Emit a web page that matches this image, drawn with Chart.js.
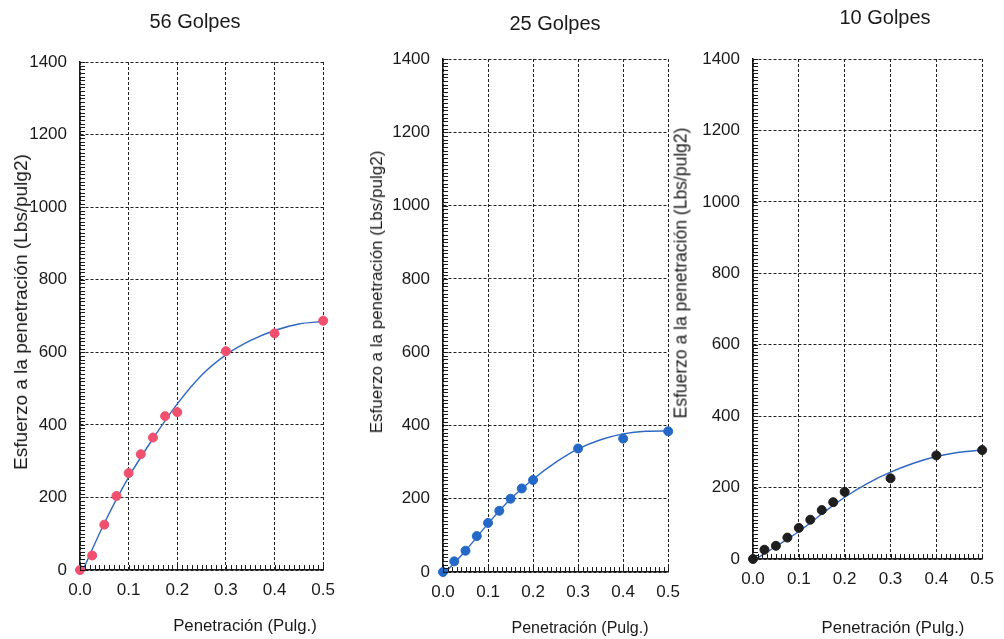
<!DOCTYPE html>
<html>
<head>
<meta charset="utf-8">
<script src="https://cdn.jsdelivr.net/npm/chart.js@4.4.0/dist/chart.umd.min.js"></script>
<style>
  body {
    margin: 0;
    background: #fff;
    width: 1004px;
    height: 639px;
    position: relative;
    overflow: hidden;
    font-family: "Liberation Sans", Arial, sans-serif;
    color: #1a1a1a;
  }
  canvas { position: absolute; top: 0; }
  .label {
    position: absolute;
    white-space: nowrap;
    transform: translate(-50%, -50%);
  }
  .vertical { transform: translate(-50%, -50%) rotate(-90deg); }
</style>
</head>
<body>
<canvas id="chart56" width="345" height="639" style="left:0"></canvas>
<canvas id="chart25" width="345" height="639" style="left:345px"></canvas>
<canvas id="chart10" width="344" height="639" style="left:660px"></canvas>

<div class="label" style="left:195px;top:21px;font-size:20px">56 Golpes</div>
<div class="label" style="left:555px;top:23px;font-size:20px">25 Golpes</div>
<div class="label" style="left:885px;top:17px;font-size:20px">10 Golpes</div>

<div class="label" style="left:245px;top:626px;font-size:16.8px">Penetración (Pulg.)</div>
<div class="label" style="left:580px;top:628px;font-size:16px">Penetración (Pulg.)</div>
<div class="label" style="left:893px;top:628px;font-size:16.7px">Penetración (Pulg.)</div>

<div class="label vertical" style="left:21px;top:312px;font-size:19px">Esfuerzo a la penetración (Lbs/pulg2)</div>
<div class="label vertical" style="left:377px;top:292px;font-size:17px">Esfuerzo a la penetración (Lbs/pulg2)</div>
<div class="label vertical" style="left:681px;top:273px;font-size:17.5px">Esfuerzo a la penetración (Lbs/pulg2)</div>

<script>
// Penetración (Pulg.) of each reading
const penetration = [0, 0.025, 0.05, 0.075, 0.1, 0.125, 0.15, 0.175, 0.2, 0.3, 0.4, 0.5];

// Esfuerzo a la penetración (Lbs/pulg2), one array per compaction
const stress56 = [0, 40, 125, 204, 267, 319, 365, 424, 435, 603, 652, 687];
const stress25 = [0, 29, 58, 98, 134, 167, 200, 228, 251, 337, 364, 384];
const stress10 = [0, 26, 37, 60, 87, 110, 137, 159, 188, 226, 290, 305];

// fitted curve
const fitPenetration = [0.006, 0.05, 0.1, 0.15, 0.2, 0.25, 0.3, 0.35, 0.4, 0.45, 0.5];
const fit56 = [0, 129, 256, 362, 458, 537, 593, 632, 660, 678, 685];
const fit25 = [0, 58, 132, 199, 253, 299, 336, 361, 377, 384, 385];
const fit10 = [0, 35, 77, 126, 173, 212, 243, 268, 287, 299, 305];

// tick labels
const xTicks = [0, 0.1, 0.2, 0.3, 0.4, 0.5];
const yTicks = [0, 200, 400, 600, 800, 1000, 1200, 1400];

const curveColor = "#2f68c4";
const inkColor = "#1a1a1a";
const tickFont = { family: "'Liberation Sans', Arial, sans-serif", size: 17 };

// small ruler marks along the left and bottom edges of the plot
const minorTicks = {
  id: "minorTicks",
  afterDraw(chart) {
    const { ctx, chartArea, scales } = chart;
    ctx.save();
    ctx.strokeStyle = inkColor;
    ctx.lineWidth = 1;
    ctx.beginPath();
    for (let i = 0; i <= 140; i++) {
      const y = Math.round(scales.y.getPixelForValue(i * 10)) + 0.5;
      ctx.moveTo(chartArea.left, y);
      ctx.lineTo(chartArea.left + 5, y);
    }
    for (let i = 0; i <= 50; i++) {
      const x = Math.round(scales.x.getPixelForValue(i / 100)) + 0.5;
      ctx.moveTo(x, chartArea.bottom);
      ctx.lineTo(x, chartArea.bottom - 5);
    }
    ctx.stroke();
    ctx.restore();
  },
};

function buildChart(id, stress, fit, dotColor, yWidth, xHeight, padding) {
  const ctx = document.getElementById(id).getContext("2d");
  return new Chart(ctx, {
    type: "scatter",
    data: {
      datasets: [
        {
          data: penetration.map((x, i) => ({ x: x, y: stress[i] })),
          backgroundColor: dotColor,
          borderColor: dotColor,
          pointRadius: 4.5,
          clip: false,
          order: 1,
        },
        {
          data: fitPenetration.map((x, i) => ({ x: x, y: fit[i] })),
          showLine: true,
          borderColor: curveColor,
          borderWidth: 1.4,
          pointRadius: 0,
          cubicInterpolationMode: "monotone",
          order: 2,
        },
      ],
    },
    options: {
      responsive: false,
      animation: false,
      layout: { padding: padding },
      plugins: {
        legend: { display: false },
        tooltip: { enabled: false },
      },
      scales: {
        x: {
          type: "linear",
          min: 0,
          max: 0.5,
          afterBuildTicks: (scale) => {
            scale.ticks = xTicks.map((v) => ({ value: v }));
          },
          afterFit: (scale) => {
            scale.height = xHeight;
          },
          ticks: {
            callback: (v) => v.toFixed(1),
            padding: 10,
            color: inkColor,
            font: tickFont,
            maxRotation: 0,
          },
          grid: { color: "#222", lineWidth: 1, drawTicks: false },
          border: { color: inkColor, width: 1.5, dash: [3, 2] },
        },
        y: {
          type: "linear",
          min: 0,
          max: 1400,
          afterBuildTicks: (scale) => {
            scale.ticks = yTicks.map((v) => ({ value: v }));
          },
          afterFit: (scale) => {
            scale.width = yWidth;
          },
          ticks: {
            callback: (v) => String(v),
            padding: 13,
            color: inkColor,
            font: tickFont,
          },
          grid: { color: "#222", lineWidth: 1, drawTicks: false },
          border: { color: inkColor, width: 1.5, dash: [3, 2] },
        },
      },
    },
    plugins: [minorTicks],
  });
}

const chart56 = buildChart("chart56", stress56, fit56, "#f0506e", 80, 69,
  { top: 62, right: 16, bottom: 0, left: 0 });
const chart25 = buildChart("chart25", stress25, fit25, "#2468c8", 98, 67,
  { top: 59, right: 21, bottom: 0, left: 0 });
const chart10 = buildChart("chart10", stress10, fit10, "#1e1e1e", 93, 80,
  { top: 59, right: 13, bottom: 0, left: 0 });
</script>
</body>
</html>
